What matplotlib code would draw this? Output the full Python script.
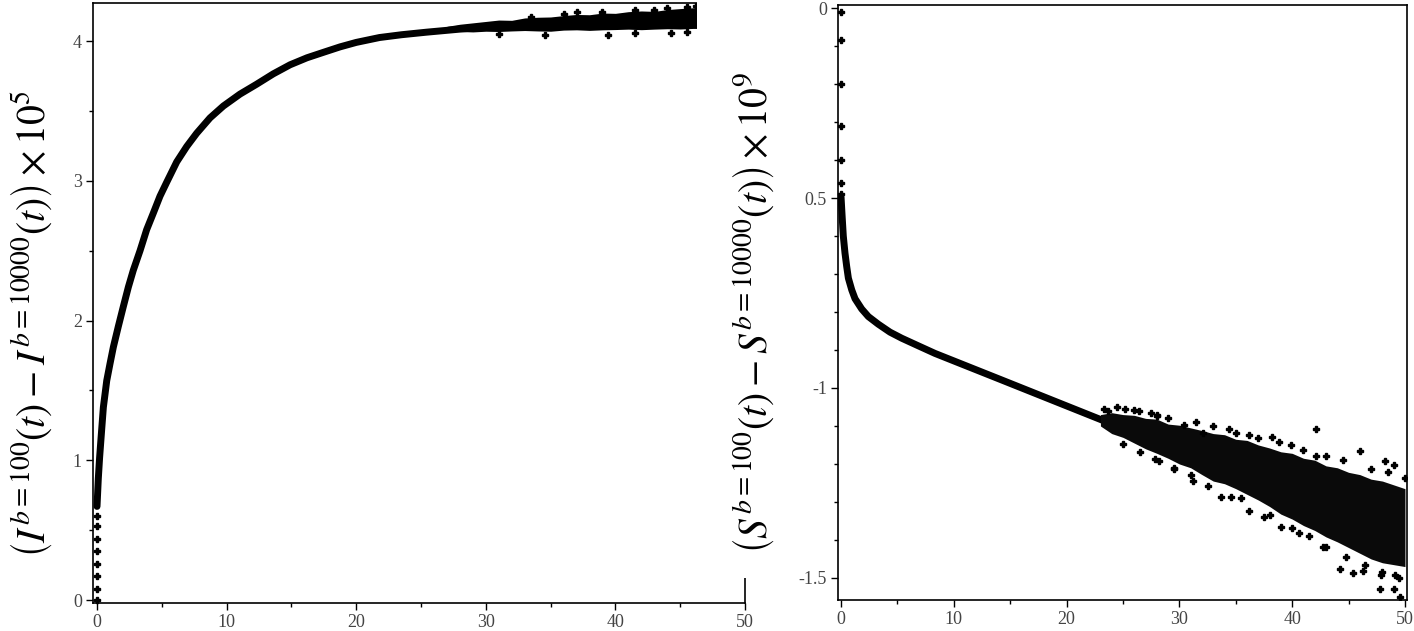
import matplotlib
matplotlib.use("Agg")
import matplotlib.pyplot as plt
from matplotlib.patches import Rectangle
from matplotlib.ticker import MultipleLocator, FixedLocator, FixedFormatter

plt.rcParams['mathtext.fontset'] = 'stix'
plt.rcParams['font.family'] = ['Liberation Serif', 'DejaVu Serif']

# ---------------- Left panel data: (I^{b=100} - I^{b=10000}) x 1e5 ----------------
t_I = [0, 0.1, 0.2, 0.36, 0.49, 0.75, 1.0, 1.26, 1.65, 2.03, 2.42, 2.8, 3.32,
       3.83, 4.35, 4.86, 5.38, 6.15, 6.92, 7.69, 8.72, 9.75, 11.03, 12.3, 13.6,
       14.9, 16.2, 17.5, 18.75, 20.0, 21.8, 23.5, 25.4, 28, 30.6, 33, 35.7, 38,
       40.9, 43.5, 46.5]
I_diff = [0.67, 0.87, 1.02, 1.22, 1.38, 1.57, 1.69, 1.81, 1.96, 2.10, 2.24, 2.36,
          2.50, 2.65, 2.77, 2.89, 2.99, 3.135, 3.245, 3.34, 3.45, 3.535, 3.62,
          3.69, 3.765, 3.83, 3.88, 3.92, 3.958, 3.99, 4.025, 4.045, 4.063, 4.085,
          4.105, 4.12, 4.135, 4.145, 4.155, 4.163, 4.17]
# early points sitting on t = 0
t_I0 = [0, 0, 0, 0, 0, 0, 0, 0]
I_0 = [0.0, 0.08, 0.17, 0.26, 0.35, 0.44, 0.53, 0.6]
# noisy band (envelopes) at large t
t_Iband = [27, 28, 29, 30, 31, 32, 33, 34, 35, 36, 37, 38, 39, 40, 41, 42, 43,
           44, 45, 46, 46.5]
I_upper = [4.105, 4.12, 4.13, 4.14, 4.15, 4.148, 4.165, 4.17, 4.172, 4.182,
           4.19, 4.188, 4.2, 4.198, 4.21, 4.215, 4.212, 4.225, 4.232, 4.238, 4.24]
I_lower = [4.07, 4.068, 4.065, 4.07, 4.068, 4.072, 4.075, 4.072, 4.07, 4.078,
           4.08, 4.076, 4.08, 4.082, 4.085, 4.081, 4.085, 4.088, 4.086, 4.09, 4.09]
# stray points at the band edges
t_Iout = [31.0, 34.6, 39.4, 41.5, 44.3, 45.5, 37.0, 41.5, 44.0, 45.5, 33.5, 36.0,
          39.0, 43.0, 46.2]
I_out = [4.05, 4.045, 4.04, 4.06, 4.055, 4.065, 4.205, 4.22, 4.235, 4.245, 4.175,
         4.19, 4.205, 4.225, 4.25]

# ---------------- Right panel data: (S^{b=100} - S^{b=10000}) x 1e9 ----------------
t_S = [0, 0.1, 0.15, 0.2, 0.35, 0.5, 0.65, 0.95, 1.24, 1.83, 2.42, 3.3, 4.34,
       5.38, 6.85, 8.33, 11.29, 14.25, 17.2, 20.15, 23.1, 24.0]
S_diff = [-0.497, -0.55, -0.575, -0.60, -0.645, -0.68, -0.711, -0.742, -0.765,
          -0.792, -0.812, -0.832, -0.853, -0.869, -0.889, -0.909, -0.944, -0.979,
          -1.014, -1.049, -1.084, -1.092]
t_S0 = [0, 0, 0, 0, 0, 0, 0]
S_0 = [-0.01, -0.085, -0.2, -0.31, -0.40, -0.46, -0.49]
t_Sband = [23, 24, 25, 26, 27, 28, 29, 30, 31, 32, 33, 34, 35, 36, 37, 38, 39,
           40, 41, 42, 43, 44, 45, 46, 47, 48, 49, 50]
S_upper = [-1.07, -1.065, -1.07, -1.072, -1.08, -1.082, -1.095, -1.098, -1.105,
           -1.112, -1.12, -1.123, -1.135, -1.138, -1.15, -1.158, -1.168, -1.172,
           -1.185, -1.19, -1.205, -1.21, -1.222, -1.228, -1.24, -1.245, -1.255,
           -1.265]
S_lower = [-1.10, -1.12, -1.13, -1.145, -1.16, -1.172, -1.185, -1.2, -1.21,
           -1.228, -1.245, -1.252, -1.265, -1.28, -1.295, -1.312, -1.332, -1.345,
           -1.362, -1.375, -1.392, -1.405, -1.42, -1.435, -1.45, -1.46, -1.465,
           -1.47]
t_Sout = [23.3, 23.7, 25.2, 26.4, 28.0, 28.0, 30.4, 29.5, 28.2, 32.1, 34.4, 36.2,
          38.2, 39.9, 42.1, 42.1, 46.0, 48.2, 49.0, 31.2, 33.7, 34.6, 36.2, 37.5,
          39.0, 40.6, 42.7, 44.2, 45.4, 46.3, 47.8, 49.0, 49.6, 47.9, 49.1,
          24.5, 26.0, 27.5, 29.0, 31.5, 33.0, 35.0, 37.0, 38.8, 41.0, 43.0, 44.5,
          47.0, 48.5, 50.0,
          25.0, 26.5, 27.8, 29.5, 31.0, 32.5, 35.5, 38.0, 40.0, 41.5, 43.0, 44.8,
          46.5, 48.0, 49.5]
S_out = [-1.055, -1.06, -1.055, -1.06, -1.07, -1.075, -1.097, -1.213, -1.192,
         -1.118, -1.108, -1.123, -1.129, -1.15, -1.108, -1.18, -1.166, -1.192,
         -1.202, -1.245, -1.287, -1.287, -1.324, -1.34, -1.366, -1.382, -1.418,
         -1.477, -1.488, -1.482, -1.529, -1.529, -1.55, -1.493, -1.493,
         -1.05, -1.058, -1.065, -1.078, -1.09, -1.10, -1.118, -1.132, -1.142,
         -1.162, -1.18, -1.19, -1.212, -1.222, -1.238,
         -1.148, -1.168, -1.188, -1.21, -1.228, -1.258, -1.29, -1.335, -1.368,
         -1.39, -1.418, -1.445, -1.465, -1.485, -1.50]

# tick labels
I_yticks = [0, 1, 2, 3, 4]
S_yticks = [-1.5, -1.0, -0.5, 0.0]
S_yticklabels = ['-1.5', '-1', '0.5', '0']
x_ticks = [0, 10, 20, 30, 40, 50]

label_I = r'$\left(I^{b=100}(t) - I^{b=10000}(t)\right) \times 10^{5}$'
label_S = r'$\left(S^{b=100}(t) - S^{b=10000}(t)\right) \times 10^{9}$'

W, H = 1414, 631
fig = plt.figure(figsize=(W / 100, H / 100), dpi=100)
fig.patch.set_facecolor('white')

ax1 = fig.add_axes([93 / W, 28 / H, 652 / W, 600 / H])
ax2 = fig.add_axes([838 / W, 31 / H, 569 / W, 595 / H])
ax1.set_zorder(0)
ax2.set_zorder(1)

ink = 'black'
lw_curve = 5.0
ms = 4.5

# left panel
ax1.plot(t_I, I_diff, color=ink, lw=lw_curve, solid_capstyle='round',
         solid_joinstyle='round', zorder=3)
ax1.fill_between(t_Iband, I_lower, I_upper, color=ink, lw=0, zorder=3)
ax1.plot(t_I0, I_0, ls='none', marker='P', ms=ms, color=ink, zorder=4, clip_on=False)
ax1.plot(t_Iout, I_out, ls='none', marker='P', ms=ms, color=ink, zorder=4)
ax1.set_xlim(-0.31, 50)
ax1.set_ylim(-0.021, 4.272)
ax1.yaxis.set_major_locator(FixedLocator(I_yticks))
ax1.yaxis.set_minor_locator(MultipleLocator(0.5))

# right panel
ax2.plot(t_S, S_diff, color=ink, lw=lw_curve, solid_capstyle='round',
         solid_joinstyle='round', zorder=3)
ax2.fill_between(t_Sband, S_lower, S_upper, color='#0a0a0a', lw=0, zorder=3)
ax2.plot(t_S0, S_0, ls='none', marker='P', ms=ms, color=ink, zorder=4, clip_on=False)
ax2.plot(t_Sout, S_out, ls='none', marker='P', ms=ms, color=ink, zorder=4)
ax2.set_xlim(-0.27, 50.18)
ax2.set_ylim(-1.558, 0.008)
ax2.yaxis.set_major_locator(FixedLocator(S_yticks))
ax2.yaxis.set_major_formatter(FixedFormatter(S_yticklabels))
ax2.yaxis.set_minor_locator(MultipleLocator(0.1))

for ax in (ax1, ax2):
    ax.xaxis.set_major_locator(FixedLocator(x_ticks))
    ax.xaxis.set_minor_locator(MultipleLocator(5))
    ax.tick_params(which='major', direction='out', length=5, width=1.0,
                   labelsize=13, labelcolor='#444444', pad=3)
    ax.tick_params(which='minor', direction='out', length=3, width=1.0)
    for s in ax.spines.values():
        s.set_linewidth(1.2)
        s.set_color('black')
    ax.set_facecolor('white')

# white sheet of the right plot covering the right part of the left plot
fig.add_artist(Rectangle((697 / W, 53 / H), 1 - 697 / W, 1 - 53 / H,
                         transform=fig.transFigure, facecolor='white',
                         edgecolor='none', zorder=0.5))

fig.text(32 / W, 1 - 324 / H, label_I, rotation=90, ha='center', va='center',
         fontsize=28.5, color='black')
fig.text(754 / W, 1 - 313 / H, label_S, rotation=90, ha='center', va='center',
         fontsize=28.5, color='black')

fig.savefig('out.png', dpi=100, facecolor='white')
